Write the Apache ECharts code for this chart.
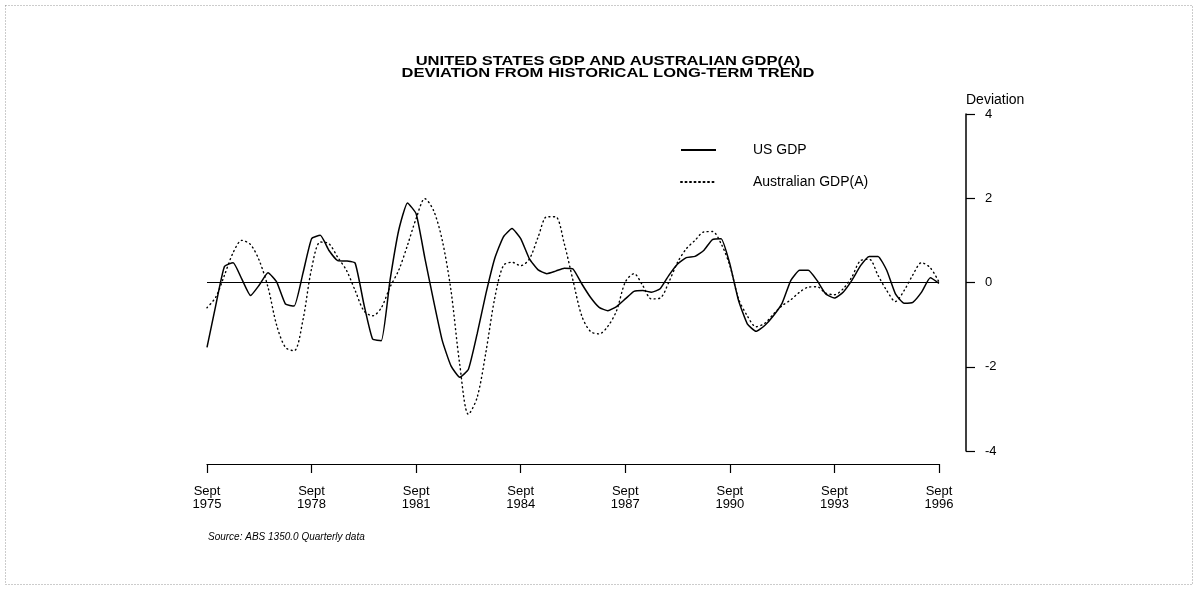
<!DOCTYPE html>
<html>
<head>
<meta charset="utf-8">
<script src="https://cdn.jsdelivr.net/npm/echarts@6/dist/echarts.min.js"></script>
<style>
  html, body { margin: 0; padding: 0; background: #fff; }
  #chart { width: 1194px; height: 589px; }
</style>
</head>
<body>
<div id="chart"></div>
<script>
// ---- Data (quarterly, Sept 1975 .. Sept 1996) ----
const quarterNames = ['Sept', 'Dec', 'Mar', 'June'];
const startYear = 1975;
const quarterCount = 85;

const usGdp = [
  -1.54, -0.55, 0.38, 0.47, 0.08, -0.31, -0.06, 0.23, 0.01, -0.51,
  -0.56, 0.21, 1.04, 1.12, 0.76, 0.52, 0.51, 0.46, -0.51, -1.34,
  -1.38, 0.05, 1.24, 1.89, 1.63, 0.58, -0.43, -1.38, -1.98, -2.25,
  -2.06, -1.22, -0.27, 0.56, 1.08, 1.28, 1.04, 0.56, 0.30, 0.21,
  0.27, 0.34, 0.32, -0.03, -0.35, -0.59, -0.67, -0.57, -0.39, -0.21,
  -0.19, -0.23, -0.15, 0.17, 0.44, 0.59, 0.62, 0.76, 1.02, 1.04,
  0.44, -0.43, -0.98, -1.16, -1.02, -0.79, -0.49, 0.05, 0.29, 0.29,
  0.05, -0.27, -0.37, -0.23, 0.05, 0.40, 0.62, 0.62, 0.29, -0.27,
  -0.49, -0.47, -0.23, 0.11, -0.02
];

const ausGdp = [
  -0.60, -0.35, 0.17, 0.71, 1.00, 0.90, 0.52, -0.11, -1.02, -1.54,
  -1.62, -0.90, 0.33, 0.96, 0.92, 0.60, 0.29, -0.19, -0.67, -0.79,
  -0.60, -0.11, 0.29, 0.88, 1.52, 1.99, 1.71, 1.00, -0.19, -1.94,
  -3.13, -2.73, -1.66, -0.39, 0.40, 0.48, 0.40, 0.56, 1.08, 1.56,
  1.56, 0.92, 0.05, -0.79, -1.16, -1.22, -1.04, -0.67, 0.01, 0.21,
  -0.07, -0.39, -0.37, 0.01, 0.48, 0.80, 1.00, 1.20, 1.21, 0.92,
  0.40, -0.39, -0.79, -1.05, -0.97, -0.75, -0.55, -0.41, -0.23, -0.11,
  -0.10, -0.25, -0.29, -0.15, 0.13, 0.52, 0.55, 0.17, -0.19, -0.45,
  -0.19, 0.18, 0.47, 0.35, 0.01
];

const xTickLabels = ['Sept\n1975', 'Sept\n1978', 'Sept\n1981', 'Sept\n1984',
                     'Sept\n1987', 'Sept\n1990', 'Sept\n1993', 'Sept\n1996'];
const yTicks = [-4, -2, 0, 2, 4];

const seriesNames = ['US GDP', 'Australian GDP(A)'];
const titleLines = ['UNITED STATES GDP AND AUSTRALIAN GDP(A)',
                    'DEVIATION FROM HISTORICAL LONG-TERM TREND'];
const yAxisName = 'Deviation';
const sourceText = 'Source: ABS 1350.0 Quarterly data';

// categories: one per quarter (Sept 1975, Dec 1975, Mar 1976, ...)
const categories = [];
for (let i = 0; i < quarterCount; i++) {
  categories.push(quarterNames[i % 4] + ' ' + (startYear + Math.floor((i + 2) / 4)));
}

const FONT = "'Liberation Sans', Arial, Helvetica, sans-serif";

const chart = echarts.init(document.getElementById('chart'), null, { renderer: 'canvas' });

chart.setOption({
  backgroundColor: '#ffffff',
  animation: false,
  textStyle: { fontFamily: FONT, color: '#000' },
  legend: {
    orient: 'vertical',
    left: 680,
    top: 143,
    padding: 0,
    itemWidth: 35,
    itemHeight: 14,
    itemGap: 18,
    data: seriesNames,
    itemStyle: { opacity: 0 },
    textStyle: { fontFamily: FONT, fontSize: 14, lineHeight: 14, color: '#000', padding: [0, 0, 0, 32] }
  },
  grid: { left: 207, right: 255, top: 114, bottom: 138, containLabel: false },
  xAxis: {
    type: 'category',
    data: categories,
    boundaryGap: false,
    offset: 13,
    axisLine: { show: true, onZero: false, lineStyle: { color: '#000', width: 1.2 } },
    axisTick: {
      show: true, length: 9, inside: false,
      interval: (idx) => idx % 12 === 0,
      lineStyle: { color: '#000', width: 1.2 }
    },
    axisLabel: {
      interval: (idx) => idx % 12 === 0,
      formatter: (val, idx) => xTickLabels[idx / 12],
      margin: 21,
      fontFamily: FONT,
      fontSize: 13,
      lineHeight: 13,
      color: '#000'
    },
    splitLine: { show: false }
  },
  yAxis: {
    type: 'value',
    position: 'right',
    offset: 27,
    min: yTicks[0],
    max: yTicks[yTicks.length - 1],
    interval: 2,
    name: yAxisName,
    nameLocation: 'end',
    nameGap: 7,
    nameTextStyle: { fontFamily: FONT, fontSize: 14, color: '#000', align: 'left' },
    axisLine: { show: true, onZero: false, lineStyle: { color: '#000', width: 1.5 } },
    axisTick: { show: true, length: 9, inside: false, lineStyle: { color: '#000', width: 1.2 } },
    axisLabel: { margin: 19, fontFamily: FONT, fontSize: 13, color: '#000',
                 formatter: (v) => String(v) },
    splitLine: { show: false }
  },
  series: [
    {
      name: seriesNames[0],
      type: 'line',
      data: usGdp,
      showSymbol: false,
      symbol: 'none',
      smooth: 0.15,
      lineStyle: { color: '#000', width: 1.5, type: 'solid' },
      itemStyle: { color: '#000' },
      markLine: {
        silent: true,
        symbol: 'none',
        label: { show: false },
        lineStyle: { color: '#000', width: 1, type: 'solid' },
        data: [{ yAxis: 0 }]
      },
      z: 3
    },
    {
      name: seriesNames[1],
      type: 'line',
      data: ausGdp,
      showSymbol: false,
      symbol: 'none',
      smooth: 0.3,
      lineStyle: { color: '#000', width: 1.4, type: [1, 3.5], cap: 'round' },
      itemStyle: { color: '#000' },
      z: 2
    }
  ],
  graphic: [
    {
      type: 'rect',
      left: 3, top: 3,
      shape: { width: 1187, height: 579 },
      style: { fill: 'none', stroke: '#999', lineWidth: 1, lineDash: [1, 2] },
      silent: true
    },
    {
      type: 'text',
      x: 608, y: 55,
      scaleX: 1.27,
      style: {
        text: titleLines.join('\n'),
        font: "bold 13px 'Liberation Sans', Arial, sans-serif",
        lineHeight: 12.5,
        textAlign: 'center',
        textVerticalAlign: 'top',
        fill: '#000'
      }
    },
    {
      type: 'text',
      left: 208, top: 532,
      style: { text: sourceText, font: "italic 10px 'Liberation Sans', Arial, sans-serif", fill: '#000' }
    }
  ]
});
</script>
</body>
</html>
